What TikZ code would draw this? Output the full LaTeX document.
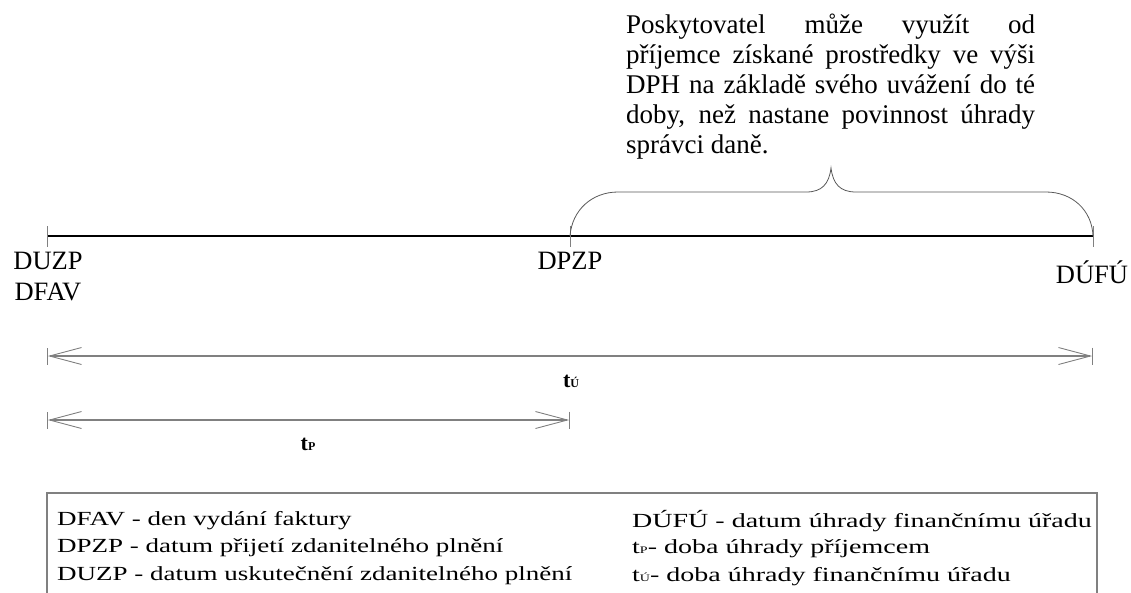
\documentclass[tikz,border=0pt]{standalone}
\usepackage{fontspec}
\setmainfont{Liberation Serif}
\newfontfamily\legendfont[FakeStretch=1.35]{Liberation Serif}
\newfontfamily\legendwide[FakeStretch=1.4]{Liberation Serif}
\usetikzlibrary{arrows.meta}

\tikzset{
  tick/.style={draw=gray, line width=0.8pt},
  dimline/.style={draw=gray, line width=1.3pt,
    {Bar[width=17pt,line width=0.8pt].Straight Barb[length=32pt,width=17pt,line width=0.9pt]}-{Straight Barb[length=32pt,width=17pt,line width=0.9pt].Bar[width=17pt,line width=0.8pt]}},
  bracket/.style={draw=black!65, line width=0.8pt},
  datelabel/.style={font=\fontsize{26.5}{31}\selectfont, inner sep=0pt, anchor=base},
  spanlabel/.style={font=\fontsize{22}{26}\selectfont\bfseries, inner sep=0pt, anchor=base},
  legendline/.style={font=\legendfont\fontsize{20}{20}\selectfont, inner sep=0pt, anchor=base west},
  legendright/.style={legendline, font=\legendwide\fontsize{20}{20}\selectfont}
}

% small index letter of t
\newcommand{\idx}[2]{{\fontsize{#1}{#1}\selectfont #2}}

\begin{document}
\begin{tikzpicture}[x=1pt, y=-1pt]
  \useasboundingbox (0,0) rectangle (1131,592);

  % points on the time axis
  \coordinate (duzp) at (47,236);
  \coordinate (dpzp) at (570,236);
  \coordinate (dufu) at (1093,236);

  \draw[line width=2.3pt] (duzp) -- (dufu);
  \foreach \p in {duzp,dpzp,dufu}
    \draw[tick] ([yshift=10pt]\p) -- ([yshift=-11pt]\p);

  \node[datelabel] (duzplbl) at (48,269) {DUZP};
  \node[datelabel] (dfavlbl) at (48,300) {DFAV};
  \node[datelabel] (dpzplbl) at (570,269) {DPZP};
  \node[datelabel] (dufulbl) at (1092,283) {DÚFÚ};

  % brace over the part after DPZP
  \coordinate (tip) at (831,168);
  \draw[bracket] (dpzp) .. controls (572,210) and (592,192) .. (618,192)
    -- (806,192) .. controls (822,192) and (829,184) .. (tip)
    .. controls (833,184) and (840,192) .. (856,192)
    -- (1046,192) .. controls (1072,192) and (1092,210) .. (dufu);

  \node[font=\fontsize{27}{30}\selectfont, text width=409pt, align=justify,
        inner sep=0pt, anchor=base west] (note) at (626,33)
    {Poskytovatel může využít od\linebreak
     příjemce získané prostředky ve výši\linebreak
     DPH na základě svého uvážení do té\linebreak
     doby, než nastane povinnost úhrady\linebreak
     správci daně.};

  % payment periods
  \coordinate (tua) at (47,356);
  \coordinate (tub) at (1093,356);
  \coordinate (tpa) at (47,420);
  \coordinate (tpb) at (570,420);
  \draw[dimline] (tua) -- (tub);
  \draw[dimline] (tpa) -- (tpb);
  \node[spanlabel] (tulbl) at (571,387) {t\idx{12}{Ú}};
  \node[spanlabel] (tplbl) at (308,450) {t\idx{12}{P}};

  % legend
  \draw[gray, line width=1.2pt] (47,493) rectangle (1097,610);
  \node[legendline] (legdfav) at (57,525) {DFAV - den vydání faktury};
  \node[legendline] (legdpzp) at (57,552) {DPZP - datum přijetí zdanitelného plnění};
  \node[legendline] (legduzp) at (57,580) {DUZP - datum uskutečnění zdanitelného plnění};
  \node[legendright] (legdufu) at (632,527) {DÚFÚ - datum úhrady finančnímu úřadu};
  \node[legendright] (legtp) at (632,553) {t\idx{10}{P}- doba úhrady příjemcem};
  \node[legendright] (legtu) at (632,581) {t\idx{10}{Ú}- doba úhrady finančnímu úřadu};
\end{tikzpicture}
\end{document}
